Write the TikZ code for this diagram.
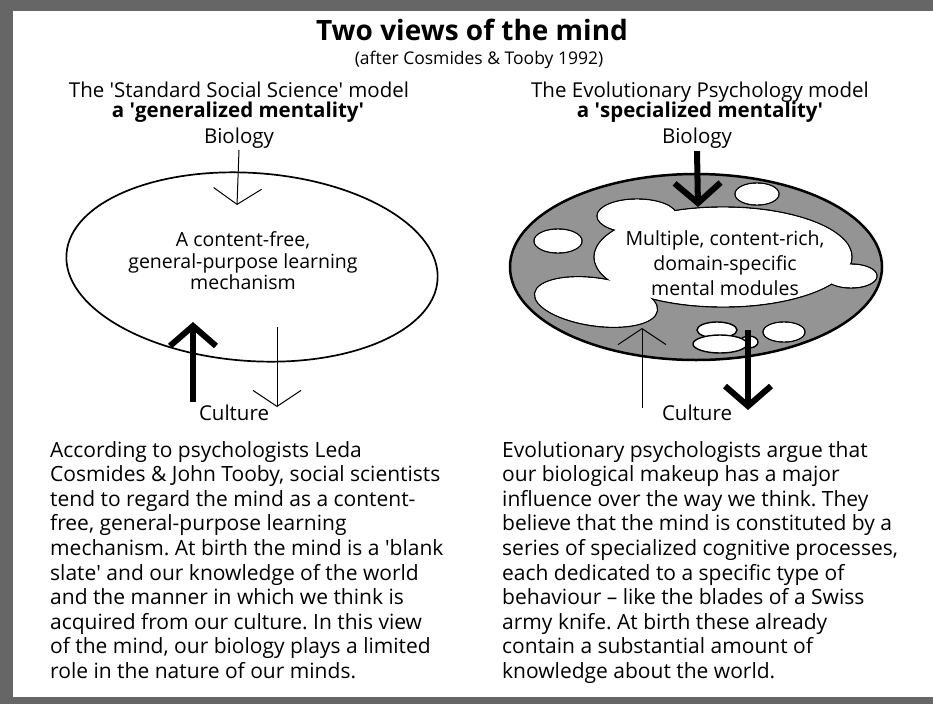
\documentclass[tikz,border=0pt]{standalone}
\usepackage{fontspec}
\setmainfont{Open Sans}
\frenchspacing
\usetikzlibrary{arrows.meta,shapes.geometric}
\colorlet{band}{black!60}
\colorlet{ringgray}{black!42}
\newcommand{\sq}{\textquotesingle}
\tikzstyle{heading}=[inner sep=0pt,anchor=base,font=\fontsize{20.5}{24}\selectfont]
\tikzstyle{caption}=[inner sep=0pt,align=center,font=\fontsize{19.5}{21.5}\selectfont]
\tikzstyle{body}=[inner sep=0pt,align=left,anchor=north west,font=\fontsize{21}{24.6}\selectfont]
\tikzstyle{mind}=[ellipse,draw,line width=1.7pt,inner sep=0pt]
\tikzstyle{module}=[line width=1.4pt]
\tikzstyle{weak}=[-{Straight Barb[length=16pt,width=48pt]},line width=1pt]
\tikzstyle{strong}=[-{Straight Barb[length=20pt,width=46pt]},line width=6pt]

\begin{document}
\begin{tikzpicture}[x=1pt,y=-1pt]
  \useasboundingbox (0,0) rectangle (933,704);
  % frame
  \fill[band] (0,0) rectangle (933,11);
  \fill[band] (0,0) rectangle (13,704);
  \fill[band] (0,697) rectangle (933,704);

  % titles
  \node[heading,font=\fontsize{28}{30}\selectfont\bfseries] (title) at (472,40) {Two views of the mind};
  \node[heading,font=\fontsize{17.5}{20}\selectfont] (source) at (479,64) {(after Cosmides \& Tooby 1992)};

  % left: generalized mentality
  \node[heading] (hdL) at (239,97) {The \sq Standard Social Science\sq{} model};
  \node[heading,font=\fontsize{20.5}{24}\selectfont\bfseries] (subL) at (238,117) {a \sq generalized mentality\sq};
  \node[heading] (bioL) at (239,143) {Biology};
  \node[mind,minimum width=372,minimum height=188,rotate=-4] (mindL) at (252,267) {};
  \node[caption] (txtL) at (243,261) {A content-free,\\general-purpose learning\\mechanism};
  \node[heading] (cultL) at (234,420) {Culture};
  \coordinate (bioLend) at (237,205);
  \coordinate (upL0) at (193,402);
  \coordinate (upL1) at (193,322);
  \coordinate (dnL0) at (277,327);
  \coordinate (dnL1) at (277,407);
  \draw[weak] ([yshift=-2pt]bioL.south) -- (bioLend);
  \draw[strong] (upL0) -- (upL1);
  \draw[weak] (dnL0) -- (dnL1);

  % right: specialized mentality
  \node[heading] (hdR) at (700,97) {The Evolutionary Psychology model};
  \node[heading,font=\fontsize{20.5}{24}\selectfont\bfseries] (subR) at (700,117) {a \sq specialized mentality\sq};
  \node[heading] (bioR) at (697,143) {Biology};
  \node[mind,fill=ringgray,line width=2.5pt,minimum width=372,minimum height=186] (mindR) at (696,267) {};
  \foreach \x/\y/\a/\b/\r in {723/257/129/50/0,637/216/40/17/0,558/241/24/12/0,596/302/62/24/-8,757/194/22/11/0,851/276/26/12/0,784/332/21/10/0}
    \draw[module,fill=white,rotate around={\r:(\x,\y)}] (\x,\y) ellipse ({\a} and {\b});
  \foreach \x/\y/\a/\b/\r in {723/257/129/50/0,637/216/40/17/0,558/241/24/12/0,596/302/62/24/-8,757/194/22/11/0,851/276/26/12/0,784/332/21/10/0}
    \fill[white,rotate around={\r:(\x,\y)}] (\x,\y) ellipse ({\a-0.7} and {\b-0.7});
  \draw[module,fill=white] (749,342) ellipse (9 and 6);
  \draw[module,fill=white] (717,330) ellipse (20 and 8);
  \draw[module,fill=white] (720,344) ellipse (27 and 9);
  \node[caption,font=\fontsize{19.5}{25}\selectfont] (txtR) at (725,263) {Multiple, content-rich,\\domain-specific\\mental modules};
  \node[heading] (cultR) at (697,420) {Culture};
  \coordinate (bioRend) at (698,207);
  \coordinate (upR0) at (642,408);
  \coordinate (upR1) at (642,328);
  \coordinate (dnR0) at (748,330);
  \coordinate (dnR1) at (748,410);
  \draw[strong] ([yshift=-3pt]bioR.south) -- (bioRend);
  \draw[weak] (upR0) -- (upR1);
  \draw[strong] (dnR0) -- (dnR1);

  % explanations
  \node[body] (bodyL) at (50,441) {According to psychologists Leda\\
    Cosmides \& John Tooby, social scientists\\
    tend to regard the mind as a content-\\
    free, general-purpose learning\\
    mechanism. At birth the mind is a \sq blank\\
    slate\sq{} and our knowledge of the world\\
    and the manner in which we think is\\
    acquired from our culture. In this view\\
    of the mind, our biology plays a limited\\
    role in the nature of our minds.};
  \node[body] (bodyR) at (502,441) {Evolutionary psychologists argue that\\
    our biological makeup has a major\\
    influence over the way we think. They\\
    believe that the mind is constituted by a\\
    series of specialized cognitive processes,\\
    each dedicated to a specific type of\\
    behaviour -- like the blades of a Swiss\\
    army knife. At birth these already\\
    contain a substantial amount of\\
    knowledge about the world.};
\end{tikzpicture}
\end{document}
